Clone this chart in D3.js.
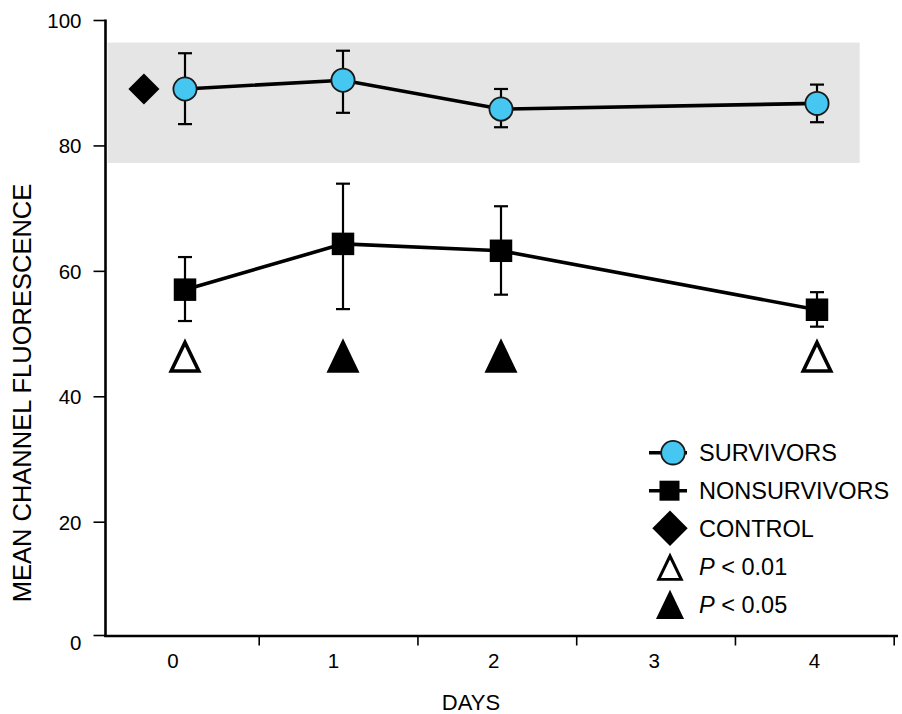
<!DOCTYPE html>
<html><head><meta charset="utf-8">
<script src="https://cdn.jsdelivr.net/npm/d3@7"></script>
<style>
body{margin:0;background:#fff}
text{font-family:"Liberation Sans",Arial,Helvetica,sans-serif;fill:#000}
</style>
</head><body>
<svg id="c" width="902" height="714"></svg>
<script>
// ---- data ----
const days = [0, 1, 2, 4];
const dayLabels = [0, 1, 2, 3, 4];
const dayBoundaries = [0.5, 1.5, 2.5, 3.5, 4.5];
const survMean = [89.0, 90.4, 85.8, 86.7];
const survHi   = [94.7, 95.1, 89.0, 89.7];
const survLo   = [83.4, 85.2, 82.9, 83.7];
const nonMean  = [57.0, 64.3, 63.2, 53.8];
const nonHi    = [62.2, 73.9, 70.3, 56.6];
const nonLo    = [52.0, 53.9, 56.2, 51.1];
const controlDay = -0.26;
const controlValue = 89.0;
const normalRangeValues = [77.2, 96.4];
const normalRangeDays = [-0.49, 4.27];
const sigLevel = ["0.01", "0.05", "0.05", "0.01"];
const sigMarkerValue = 46.5;
const yTicks = [0, 20, 40, 60, 80, 100];
const legendLabels = ["SURVIVORS", "NONSURVIVORS", "CONTROL", "P < 0.01", "P < 0.05"];

// ---- scales ----
const x = d3.scaleLinear().domain([0, 4]).range([185, 817]);
const xLabel = d3.scaleLinear().domain([0, 4]).range([173, 814.5]);
const xTick = d3.scaleLinear().domain([0.5, 4.5]).range([259.2, 894.2]);
const y = d3.scaleLinear().domain([0, 20, 100]).range([635, 521.7, 20]);

const svg = d3.select("#c");
const CYAN = "#45c7f1";

// normal range band
svg.append("rect")
  .attr("x", x(normalRangeDays[0])).attr("width", x(normalRangeDays[1]) - x(normalRangeDays[0]))
  .attr("y", y(normalRangeValues[1])).attr("height", y(normalRangeValues[0]) - y(normalRangeValues[1]))
  .attr("fill", "#e5e5e5");

// y axis
const yAxis = svg.append("g").attr("transform", "translate(105.5,0)")
  .call(d3.axisLeft(y).tickValues(yTicks).tickSize(12).tickPadding(12).tickFormat(d3.format("d")));
yAxis.select(".domain").remove();
yAxis.selectAll(".tick line").attr("stroke", "#000").attr("stroke-width", 1.6);
yAxis.selectAll(".tick text").style("font-size", "20.5px").attr("font-family", null)
  .attr("dy", d => d === 0 ? "0.7em" : "0.36em");
svg.append("line").attr("x1", 105.5).attr("x2", 105.5).attr("y1", y(100) - 0.5).attr("y2", y(0) + 1.8)
  .attr("stroke", "#000").attr("stroke-width", 2.6);

// x axis
svg.append("line").attr("x1", 104.2).attr("x2", 898).attr("y1", 636).attr("y2", 636)
  .attr("stroke", "#000").attr("stroke-width", 2.6);
svg.append("g").selectAll("line").data(dayBoundaries).join("line")
  .attr("x1", d => xTick(d)).attr("x2", d => xTick(d))
  .attr("y1", 636).attr("y2", 645.5).attr("stroke", "#000").attr("stroke-width", 1.6);
svg.append("g").selectAll("text").data(dayLabels).join("text")
  .attr("x", d => xLabel(d)).attr("y", 667.5).attr("text-anchor", "middle")
  .style("font-size", "20.5px").text(d => d);
svg.append("text").attr("x", 471).attr("y", 709.5).attr("text-anchor", "middle")
  .style("font-size", "22px").text("DAYS");
svg.append("text").attr("transform", "translate(31,393) rotate(-90)").attr("text-anchor", "middle")
  .style("font-size", "25.5px").text("MEAN CHANNEL FLUORESCENCE");

// series lines
const line = d3.line().x(d => x(d[0])).y(d => y(d[1]));
svg.append("path").datum(days.map((d, i) => [d, nonMean[i]])).attr("d", line)
  .attr("fill", "none").attr("stroke", "#000").attr("stroke-width", 3.6);
svg.append("path").datum(days.map((d, i) => [d, survMean[i]])).attr("d", line)
  .attr("fill", "none").attr("stroke", "#000").attr("stroke-width", 3.6);

// error bars
function errorBars(hi, lo) {
  const g = svg.append("g").attr("stroke", "#000").attr("stroke-width", 2.2);
  days.forEach((d, i) => {
    const cx = x(d);
    g.append("line").attr("x1", cx).attr("x2", cx).attr("y1", y(hi[i])).attr("y2", y(lo[i]));
    g.append("line").attr("x1", cx - 7).attr("x2", cx + 7).attr("y1", y(hi[i])).attr("y2", y(hi[i]));
    g.append("line").attr("x1", cx - 7).attr("x2", cx + 7).attr("y1", y(lo[i])).attr("y2", y(lo[i]));
  });
}
errorBars(nonHi, nonLo);
errorBars(survHi, survLo);

// nonsurvivor squares
svg.append("g").selectAll("path").data(days).join("path")
  .attr("transform", (d, i) => `translate(${x(d)},${y(nonMean[i])})`)
  .attr("d", d3.symbol(d3.symbolSquare, 22.5 * 22.5)).attr("fill", "#000");

// survivor circles
svg.append("g").selectAll("circle").data(days).join("circle")
  .attr("cx", d => x(d)).attr("cy", (d, i) => y(survMean[i])).attr("r", 11.6)
  .attr("fill", CYAN).attr("stroke", "#1a1a1a").attr("stroke-width", 1.8);

// control diamond
svg.append("path")
  .attr("transform", `translate(${x(controlDay)},${y(controlValue)}) rotate(45)`)
  .attr("d", d3.symbol(d3.symbolSquare, 22 * 22)).attr("fill", "#000");

// triangles
function triPath(w, h) { return `M0,${-h / 2}L${w / 2},${h / 2}L${-w / 2},${h / 2}Z`; }
function drawTri(g, cx, cy, level, scale) {
  if (level === "0.01") {
    g.append("path").attr("transform", `translate(${cx},${cy + 1.2 * scale}) scale(${scale})`)
      .attr("d", triPath(27.5, 28.5)).attr("fill", "#fff").attr("stroke", "#000")
      .attr("stroke-width", 3.6).attr("stroke-linejoin", "miter");
  } else {
    g.append("path").attr("transform", `translate(${cx},${cy}) scale(${scale})`)
      .attr("d", triPath(33, 34.5)).attr("fill", "#000");
  }
}
const tg = svg.append("g");
days.forEach((d, i) => drawTri(tg, x(d), y(sigMarkerValue), sigLevel[i], 1));

// legend
const legY = [452.7, 490.7, 528.3, 566.7, 604.3];
const lg = svg.append("g");
lg.append("line").attr("x1", 649).attr("x2", 687).attr("y1", legY[0]).attr("y2", legY[0]).attr("stroke", "#000").attr("stroke-width", 3.6);
lg.append("circle").attr("cx", 673).attr("cy", legY[0]).attr("r", 11.8).attr("fill", CYAN).attr("stroke", "#1a1a1a").attr("stroke-width", 1.8);
lg.append("line").attr("x1", 649).attr("x2", 687).attr("y1", legY[1]).attr("y2", legY[1]).attr("stroke", "#000").attr("stroke-width", 3.6);
lg.append("path").attr("transform", `translate(669.5,${legY[1]})`).attr("d", d3.symbol(d3.symbolSquare, 20 * 20)).attr("fill", "#000");
lg.append("path").attr("transform", `translate(670,${legY[2]}) rotate(45)`).attr("d", d3.symbol(d3.symbolSquare, 25 * 25)).attr("fill", "#000");
drawTri(lg, 670, legY[3], "0.01", 0.82);
drawTri(lg, 670, legY[4], "0.05", 0.85);

lg.selectAll("text").data(legendLabels).join("text")
  .attr("x", 699).attr("y", (d, i) => legY[i] + 8.3).style("font-size", "23.5px")
  .each(function (d) {
    const t = d3.select(this);
    if (d.startsWith("P ")) {
      t.append("tspan").style("font-style", "italic").text("P");
      t.append("tspan").text(d.slice(1));
    } else t.text(d);
  });
</script>
</body></html>
